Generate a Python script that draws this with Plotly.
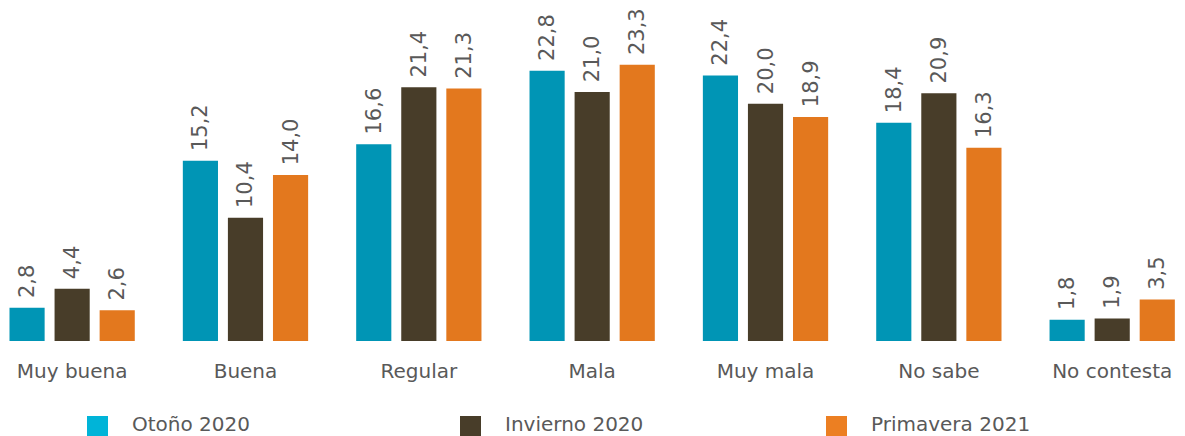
import plotly.graph_objects as go

categories = ["Muy buena", "Buena", "Regular", "Mala", "Muy mala", "No sabe", "No contesta"]
series_names = ["Otoño 2020", "Invierno 2020", "Primavera 2021"]
otono_2020 = [2.8, 15.2, 16.6, 22.8, 22.4, 18.4, 1.8]
invierno_2020 = [4.4, 10.4, 21.4, 21.0, 20.0, 20.9, 1.9]
primavera_2021 = [2.6, 14.0, 21.3, 23.3, 18.9, 16.3, 3.5]

bar_colors = ["#0095B5", "#483D29", "#E3781E"]
legend_colors = ["#00B4D8", "#483D29", "#EC7F22"]
text_color = "#595959"
font_family = "DejaVu Sans"

# page has an 8px body margin, so the figure is a bit smaller than the window
W, H = 1177, 428
plot_h = 332

fig = go.Figure()

for name, values, color in zip(series_names, [otono_2020, invierno_2020, primavera_2021], bar_colors):
    fig.add_trace(go.Bar(
        x=categories,
        y=values,
        name=name,
        marker=dict(color=color, line=dict(width=0)),
        texttemplate="\u00a0%{y:.1f}",
        textposition="outside",
        textangle=-90,
        constraintext="none",
        textfont=dict(family=font_family, size=21, color=text_color),
        cliponaxis=False,
        showlegend=False,
    ))

# gray baseline under each group of bars
for i in range(len(categories)):
    fig.add_shape(type="line", xref="x", yref="y",
                  x0=i - 0.365, x1=i + 0.365, y0=-0.12, y1=-0.12,
                  line=dict(color="#A6A6A6", width=3))

# legend drawn by hand to get the large square markers
legend_x = [79, 452, 818]
for name, color, px in zip(series_names, legend_colors, legend_x):
    fig.add_shape(type="rect", xref="paper", yref="paper",
                  x0=px / W, x1=(px + 21) / W,
                  y0=-95 / plot_h, y1=-75 / plot_h,
                  line=dict(width=0), fillcolor=color)
    fig.add_annotation(text=name, xref="paper", yref="paper",
                       x=(px + 43) / W, y=-83 / plot_h,
                       xanchor="left", yanchor="middle", showarrow=False,
                       font=dict(family=font_family, size=20, color=text_color))

fig.update_layout(
    width=W,
    height=H,
    margin=dict(l=0, r=0, t=H - 95 - plot_h, b=95),
    barmode="group",
    bargap=0.22,
    bargroupgap=0.22,
    separators=",.",
    plot_bgcolor="white",
    paper_bgcolor="white",
    font=dict(family=font_family, color=text_color),
    xaxis=dict(
        range=[-0.37, 6.42],
        showgrid=False,
        showline=False,
        zeroline=False,
        ticks="outside",
        ticklen=12,
        tickcolor="rgba(0,0,0,0)",
        tickfont=dict(family=font_family, size=20, color=text_color),
    ),
    yaxis=dict(
        range=[0, 28],
        visible=False,
    ),
)

fig.write_html("out.html")
